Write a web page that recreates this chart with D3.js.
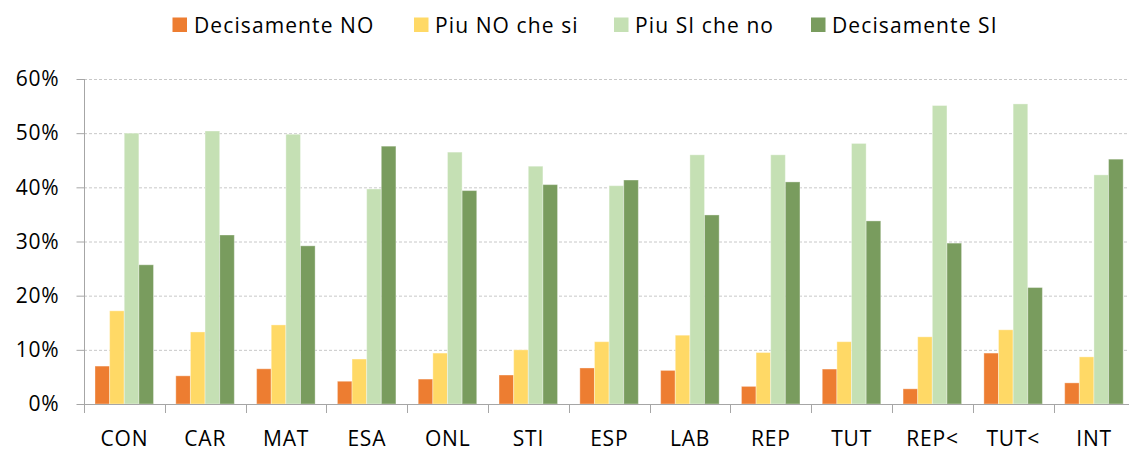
<!DOCTYPE html>
<html>
<head>
<meta charset="utf-8">
<script src="https://cdn.jsdelivr.net/npm/d3@7"></script>
<style>
  html, body { margin: 0; padding: 0; background: #fff; }
  svg { display: block; }
  text { font-family: "Open Sans", "Noto Sans", sans-serif; fill: #000; }
</style>
</head>
<body>
<svg id="chart" width="1129" height="450"></svg>
<script>
const categories = ["CON", "CAR", "MAT", "ESA", "ONL", "STI", "ESP", "LAB", "REP", "TUT", "REP<", "TUT<", "INT"];
const seriesNames = ["Decisamente NO", "Piu NO che si", "Piu SI che no", "Decisamente SI"];
const decisamenteNO = [7.0, 5.2, 6.5, 4.2, 4.6, 5.35, 6.65, 6.2, 3.25, 6.45, 2.8, 9.4, 3.9];
const piuNOcheSi    = [17.2, 13.3, 14.6, 8.3, 9.4, 10.0, 11.5, 12.7, 9.5, 11.5, 12.4, 13.7, 8.7];
const piuSIcheNo    = [50.0, 50.4, 49.8, 39.7, 46.5, 43.9, 40.3, 46.0, 46.0, 48.1, 55.1, 55.4, 42.3];
const decisamenteSI = [25.7, 31.2, 29.2, 47.6, 39.4, 40.5, 41.35, 34.9, 41.0, 33.8, 29.7, 21.5, 45.2];
const yTicks = [0, 10, 20, 30, 40, 50, 60];
const colors = ["#ED7D31", "#FFD966", "#C5E0B4", "#799C5E"];

const seriesValues = [decisamenteNO, piuNOcheSi, piuSIcheNo, decisamenteSI];
const FONT = "'Open Sans', 'Noto Sans', sans-serif";

const svg = d3.select("#chart");
const x0 = d3.scaleBand().domain(categories).range([84, 1134.5]).padding(0);
const x1 = d3.scaleBand().domain(seriesNames).range([11, 69.5]).padding(0);
const y = d3.scaleLinear().domain([0, 60]).range([404, 79]);

// gridlines
svg.append("g").selectAll("line").data(yTicks.filter(d => d > 0)).join("line")
  .attr("x1", 84).attr("x2", 1129)
  .attr("y1", d => y(d) + 0.5).attr("y2", d => y(d) + 0.5)
  .attr("stroke", "#c8c8c8").attr("stroke-width", 1).attr("stroke-dasharray", "3,2");

// bars
const groups = svg.append("g").selectAll("g").data(categories).join("g")
  .attr("transform", d => `translate(${x0(d)},0)`);
groups.selectAll("rect")
  .data((c, i) => seriesNames.map((s, j) => ({ s, j, v: seriesValues[j][i] })))
  .join("rect")
  .attr("x", d => x1(d.s))
  .attr("width", x1.bandwidth())
  .attr("y", d => y(d.v))
  .attr("height", d => y(0) - y(d.v))
  .attr("fill", d => colors[d.j])
  .attr("stroke", "rgba(255,255,255,0.35)").attr("stroke-width", 1);

// y axis
const yAxis = d3.axisLeft(y).tickValues(yTicks).tickFormat(d => d + "%").tickSize(8).tickPadding(17);
const gy = svg.append("g").attr("transform", "translate(84.5,0)").call(yAxis);
gy.select(".domain").attr("stroke", "#a6a6a6").attr("d", "M0,79V404");
gy.selectAll(".tick line").attr("stroke", "#a6a6a6");
gy.selectAll(".tick text").attr("font-size", 21).attr("fill", "#000")
  .style("font-family", FONT).style("letter-spacing", "0.8px");

// x axis
const xAxis = d3.axisBottom(x0).tickSize(0).tickPadding(0);
const gx = svg.append("g").attr("transform", "translate(0,404.5)").call(xAxis);
gx.select(".domain").attr("stroke", "#a6a6a6").attr("d", "M84,0H1129");
gx.selectAll(".tick text").attr("font-size", 21).attr("fill", "#000").attr("y", 41).attr("dy", 0)
  .style("font-family", FONT).style("letter-spacing", "0.8px");
// category boundary ticks
svg.append("g").selectAll("line").data(categories).join("line")
  .attr("x1", d => Math.round(x0(d)) + 0.5).attr("x2", d => Math.round(x0(d)) + 0.5)
  .attr("y1", 404).attr("y2", 413)
  .attr("stroke", "#a6a6a6");

// legend
const legendX = [172.5, 414, 614, 811];
const leg = svg.append("g").selectAll("g").data(seriesNames).join("g")
  .attr("transform", (d, i) => `translate(${legendX[i]},0)`);
leg.append("rect").attr("x", 0).attr("y", 17.5).attr("width", 14.5).attr("height", 14.5)
  .attr("fill", (d, i) => colors[i]);
leg.append("text").attr("x", (d, i) => i === 0 ? 21.5 : 21).attr("y", 32.5)
  .attr("font-size", 21).style("letter-spacing", "1.1px").text(d => d);
</script>
</body>
</html>
